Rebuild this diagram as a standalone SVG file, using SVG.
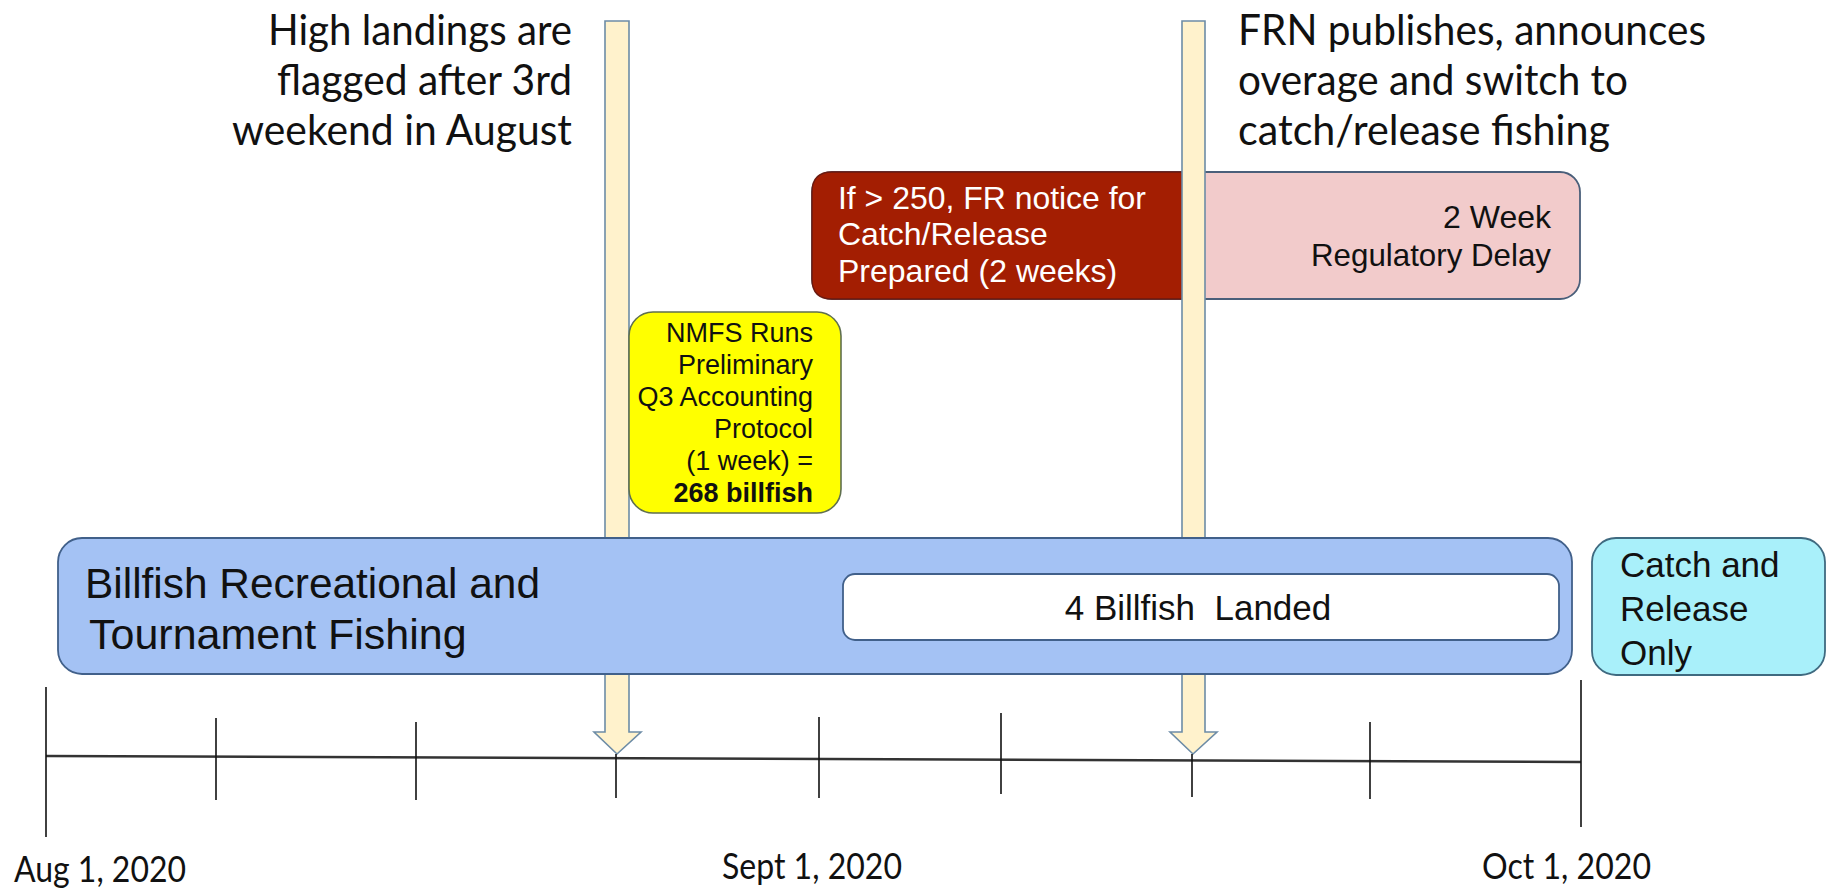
<svg xmlns="http://www.w3.org/2000/svg" width="1826" height="889" viewBox="0 0 1826 889">
<style>
.cal{font-family:Lato,"Open Sans","Liberation Sans",sans-serif;fill:#111}
.ar{font-family:"Liberation Sans",Arial,sans-serif;fill:#111}
.top{font-size:43px}
.date{font-size:36px}
.tick{stroke:#111;stroke-width:1.6}
.arrow{fill:#FFF2CC;stroke:#6D8CA6;stroke-width:1.6}
.box{stroke:#41608A;stroke-width:1.8}
</style>
<rect width="1826" height="889" fill="#fff"/>

<g id="label-flagged" class="cal top" text-anchor="end">
  <text x="572" y="45" textLength="304" lengthAdjust="spacingAndGlyphs">High landings are</text>
  <text x="572" y="95" textLength="295" lengthAdjust="spacingAndGlyphs">flagged after 3rd</text>
  <text x="572" y="145" textLength="340" lengthAdjust="spacingAndGlyphs">weekend in August</text>
</g>

<g id="label-frn" class="cal top">
  <text x="1238" y="45" textLength="468" lengthAdjust="spacingAndGlyphs">FRN publishes, announces</text>
  <text x="1238" y="95" textLength="390" lengthAdjust="spacingAndGlyphs">overage and switch to</text>
  <text x="1238" y="145" textLength="372" lengthAdjust="spacingAndGlyphs">catch/release fishing</text>
</g>

<g id="box-delay">
  <rect x="812" y="172" width="768" height="127" rx="20" fill="#F2CBCB" stroke="#4A5F7A" stroke-width="1.8"/>
  <text class="ar" x="1551" y="228" font-size="32" text-anchor="end">2 Week</text>
  <text class="ar" x="1551" y="266" font-size="32" text-anchor="end" textLength="240" lengthAdjust="spacingAndGlyphs">Regulatory Delay</text>
</g>

<g id="box-fr-notice">
  <path d="M832,172 H1194 V299 H832 Q812,299 812,279 V192 Q812,172 832,172 Z" fill="#A31E02" stroke="#6B1A10" stroke-width="1.4"/>
  <text class="ar" x="838" y="209" font-size="32" style="fill:#fff" textLength="308" lengthAdjust="spacingAndGlyphs">If &gt; 250, FR notice for</text>
  <text class="ar" x="838" y="245" font-size="32" style="fill:#fff">Catch/Release</text>
  <text class="ar" x="838" y="282" font-size="32" style="fill:#fff">Prepared (2 weeks)</text>
</g>

<g id="connectors">
  <path id="arrow-flagged" class="arrow" d="M605,21 H629 V732 H641 L617,754 L594,732 H605 Z"/>
  <path id="arrow-frn" class="arrow" d="M1182,21 H1205 V732 H1217 L1193,754 L1170,732 H1182 Z"/>
</g>

<g id="box-nmfs">
  <rect x="629" y="312" width="212" height="201" rx="24" fill="#FFFF00" stroke="#5F6F4F" stroke-width="1.6"/>
  <g class="ar" font-size="27" text-anchor="end">
    <text x="813" y="342">NMFS  Runs</text>
    <text x="813" y="374">Preliminary</text>
    <text x="813" y="406">Q3 Accounting</text>
    <text x="813" y="438">Protocol</text>
    <text x="813" y="470">(1 week) =</text>
    <text x="813" y="502" font-weight="bold">268 billfish</text>
  </g>
</g>

<g id="box-fishing">
  <rect x="58" y="538" width="1514" height="136" rx="24" fill="#A4C2F4" class="box"/>
  <text class="ar" x="85" y="598" font-size="43" textLength="455" lengthAdjust="spacingAndGlyphs">Billfish Recreational and</text>
  <text class="ar" x="89" y="649" font-size="43">Tournament Fishing</text>
</g>

<g id="box-landed">
  <rect x="843" y="574" width="716" height="66" rx="12" fill="#FFFFFF" class="box"/>
  <text class="ar" x="1198" y="620" font-size="35" text-anchor="middle" xml:space="preserve">4 Billfish  Landed</text>
</g>

<g id="box-catch-release">
  <rect x="1592" y="538" width="233" height="137" rx="24" fill="#A9F0FA" stroke="#3F6A80" stroke-width="1.8"/>
  <text class="ar" x="1620" y="577" font-size="35">Catch and</text>
  <text class="ar" x="1620" y="621" font-size="35">Release</text>
  <text class="ar" x="1620" y="665" font-size="35">Only</text>
</g>

<g id="timeline">
  <line x1="46" y1="756" x2="1581" y2="762" stroke="#333" stroke-width="2.4"/>
  <line class="tick" x1="46" y1="687" x2="46" y2="837"/>
  <line class="tick" x1="216" y1="718" x2="216" y2="800"/>
  <line class="tick" x1="416" y1="722" x2="416" y2="800"/>
  <line class="tick" x1="616" y1="754" x2="616" y2="798"/>
  <line class="tick" x1="819" y1="717" x2="819" y2="798"/>
  <line class="tick" x1="1001" y1="713" x2="1001" y2="794"/>
  <line class="tick" x1="1192" y1="754" x2="1192" y2="797"/>
  <line class="tick" x1="1370" y1="722" x2="1370" y2="799"/>
  <line class="tick" x1="1581" y1="680" x2="1581" y2="827"/>
</g>

<g id="dates" class="cal date">
  <text x="14" y="882" textLength="172" lengthAdjust="spacingAndGlyphs">Aug 1, 2020</text>
  <text x="722" y="879" textLength="180" lengthAdjust="spacingAndGlyphs">Sept 1, 2020</text>
  <text x="1482" y="879" textLength="169" lengthAdjust="spacingAndGlyphs">Oct 1, 2020</text>
</g>
</svg>
